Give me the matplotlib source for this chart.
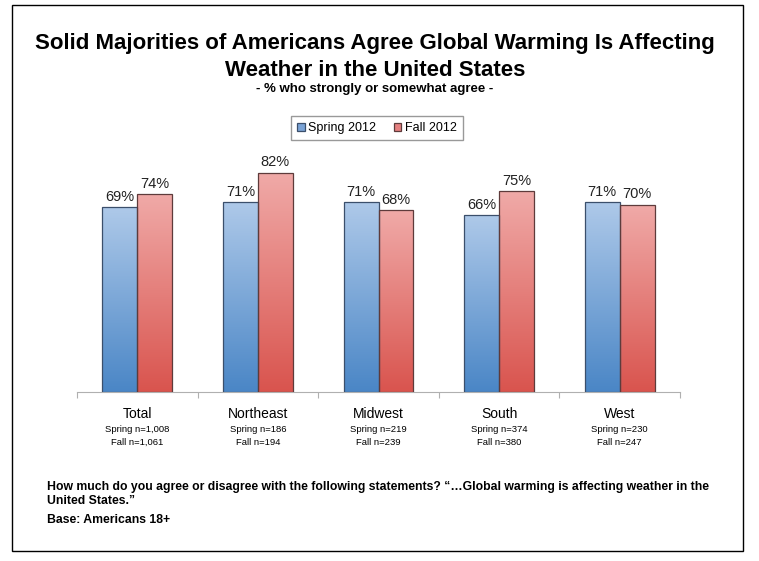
import matplotlib.pyplot as plt
import numpy as np
from matplotlib.colors import LinearSegmentedColormap
from matplotlib.patches import Rectangle

# Data
categories = ['Total', 'Northeast', 'Midwest', 'South', 'West']
spring_2012 = [69, 71, 71, 66, 71]
fall_2012 = [74, 82, 68, 75, 70]
spring_n = ['1,008', '186', '219', '374', '230']
fall_n = ['1,061', '194', '239', '380', '247']

plt.rcParams['font.family'] = ['Liberation Sans', 'DejaVu Sans']

fig = plt.figure(figsize=(7.59, 5.61), dpi=100)

# outer frame
fig.patches.append(Rectangle((12 / 759, 1 - 551 / 561), 731 / 759, 546 / 561,
                             transform=fig.transFigure, fill=False,
                             edgecolor='black', linewidth=1.0))

ax = fig.add_axes([77 / 759, 169 / 561, 603 / 759, 267.6 / 561])

blue_cmap = LinearSegmentedColormap.from_list('b', ['#4a86c6', '#aec9e9'])
red_cmap = LinearSegmentedColormap.from_list('r', ['#d9544e', '#f0aaa8'])
grad = np.linspace(0, 1, 256).reshape(-1, 1)

x = np.arange(len(categories))
w = 0.29


def gradient_bars(xpos, vals, cmap, edge):
    bars = ax.bar(xpos, vals, width=w, facecolor='none', edgecolor=edge,
                  linewidth=0.9, zorder=3)
    for b in bars:
        x0, y0 = b.get_x(), b.get_y()
        im = ax.imshow(grad, cmap=cmap, origin='lower', aspect='auto',
                       extent=[x0, x0 + b.get_width(), y0, y0 + b.get_height()],
                       zorder=2)
        im.set_clip_path(b)
    return bars


sb = gradient_bars(x - w / 2, spring_2012, blue_cmap, '#3b4f6b')
fb = gradient_bars(x + w / 2, fall_2012, red_cmap, '#5e3b3b')

for xs, v in zip(x - w / 2, spring_2012):
    ax.text(xs, v + 1.2, f'{v}%', ha='center', va='bottom', fontsize=10.5, color='#222222')
for xs, v in zip(x + w / 2, fall_2012):
    ax.text(xs, v + 1.2, f'{v}%', ha='center', va='bottom', fontsize=10.5, color='#222222')

ax.set_xlim(-0.5, len(categories) - 0.5)
ax.set_ylim(0, 100)
for s in ['top', 'right', 'left']:
    ax.spines[s].set_visible(False)
ax.spines['bottom'].set_color('#b0b0b0')
ax.set_yticks([])
ax.set_xticks(np.arange(len(categories) + 1) - 0.5)
ax.set_xticklabels([])
ax.tick_params(axis='x', length=4, color='#b0b0b0')

for i, c in enumerate(categories):
    ax.annotate(c, (i, 0), xycoords='data', xytext=(0, -11), textcoords='offset points',
                ha='center', va='top', fontsize=10)
    ax.annotate(f'Spring n={spring_n[i]}', (i, 0), xycoords='data', xytext=(0, -24),
                textcoords='offset points', ha='center', va='top', fontsize=6.8)
    ax.annotate(f'Fall n={fall_n[i]}', (i, 0), xycoords='data', xytext=(0, -33),
                textcoords='offset points', ha='center', va='top', fontsize=6.8)

leg = fig.legend([sb[0], fb[0]], ['Spring 2012', 'Fall 2012'], loc='center',
                 bbox_to_anchor=(377 / 759, 1 - 128 / 561), ncol=2, frameon=True,
                 fancybox=False, edgecolor='#808080', fontsize=9,
                 handlelength=0.6, handleheight=0.6, handletextpad=0.3,
                 columnspacing=1.4, borderpad=0.45)
leg.legend_handles[0].set_facecolor('#7aa3d6')
leg.legend_handles[0].set_edgecolor('#3b4f6b')
leg.legend_handles[1].set_facecolor('#e58080')
leg.legend_handles[1].set_edgecolor('#5e3b3b')

fig.text(375 / 759, 1 - 44 / 561, 'Solid Majorities of Americans Agree Global Warming Is Affecting',
         ha='center', va='center', fontsize=16, fontweight='bold')
fig.text(375 / 759, 1 - 70 / 561, 'Weather in the United States',
         ha='center', va='center', fontsize=16, fontweight='bold')
fig.text(375 / 759, 1 - 89 / 561, '- % who strongly or somewhat agree -',
         ha='center', va='center', fontsize=9.5, fontweight='bold')

fig.text(47 / 759, 1 - 487 / 561,
         'How much do you agree or disagree with the following statements? \u201c\u2026Global warming is affecting weather in the',
         ha='left', va='center', fontsize=8.8, fontweight='bold')
fig.text(47 / 759, 1 - 501 / 561, 'United States.\u201d',
         ha='left', va='center', fontsize=8.8, fontweight='bold')
fig.text(47 / 759, 1 - 520 / 561, 'Base: Americans 18+',
         ha='left', va='center', fontsize=8.8, fontweight='bold')

fig.savefig('out.png', dpi=100)
